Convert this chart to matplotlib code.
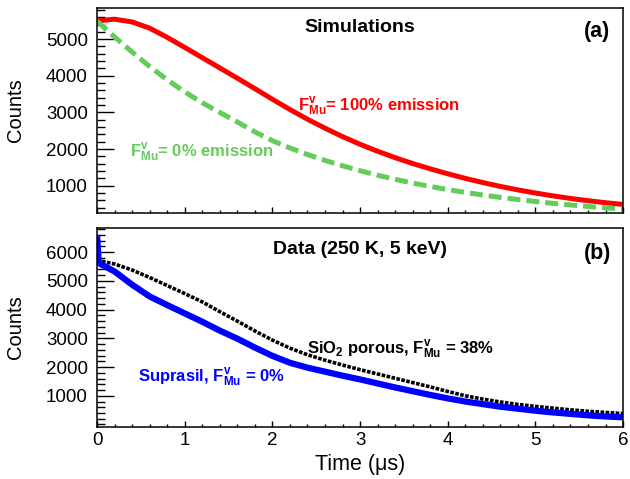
import matplotlib
matplotlib.use('Agg')
import matplotlib.pyplot as plt
from matplotlib.ticker import MultipleLocator, FixedLocator

plt.rcParams['font.family'] = 'Liberation Sans'
plt.rcParams['mathtext.fontset'] = 'custom'
plt.rcParams['mathtext.rm'] = 'Liberation Sans'
plt.rcParams['mathtext.bf'] = 'Liberation Sans:bold'

# Time bins (us), every 0.2 us
t = [0.0, 0.2, 0.4, 0.6, 0.8, 1.0, 1.2, 1.4, 1.6, 1.8, 2.0,
     2.2, 2.4, 2.6, 2.8, 3.0, 3.2, 3.4, 3.6, 3.8, 4.0,
     4.2, 4.4, 4.6, 4.8, 5.0, 5.2, 5.4, 5.6, 5.8, 6.0]

# (a) Simulations
sim_100 = [5500, 5545, 5470, 5300, 5050, 4775, 4495, 4215, 3935, 3650, 3360,
           3080, 2815, 2570, 2340, 2130, 1940, 1765, 1605, 1460, 1325,
           1200, 1085, 980, 885, 800, 722, 652, 590, 535, 488]
sim_0 = [5490, 5060, 4650, 4255, 3890, 3560, 3265, 3000, 2740, 2470, 2230,
         2030, 1852, 1690, 1543, 1409, 1286, 1174, 1072, 979, 894,
         816, 745, 680, 621, 567, 518, 473, 432, 394, 360]

# (b) Data (250 K, 5 keV)
porous = [5720, 5590, 5380, 5120, 4840, 4560, 4270, 3930, 3600, 3260, 2940,
          2660, 2430, 2240, 2070, 1910, 1760, 1610, 1460, 1310, 1150,
          1000, 885, 785, 700, 630, 570, 510, 460, 420, 380]
t_supra = [0.0, 0.02] + t[1:]
suprasil = [6600, 5620, 5330, 4870, 4460, 4160, 3870, 3580, 3270, 2990, 2680, 2390,
            2150, 1980, 1840, 1700, 1570, 1430, 1290, 1160, 1030, 910,
            800, 710, 620, 550, 480, 420, 370, 320, 280, 250]

red = '#ff0000'
green = '#63cc5a'
blue = '#0000ff'

fig = plt.figure(figsize=(6.3, 4.79), dpi=100)
ax1 = fig.add_axes([0.154, 0.555, 0.835, 0.429])
ax2 = fig.add_axes([0.154, 0.109, 0.835, 0.416])

ax1.plot(t, sim_100, color=red, lw=3.6, solid_capstyle='butt', solid_joinstyle='round')
ax1.plot(t, sim_0, color=green, lw=3.6, dashes=(2.6, 1.2), dash_capstyle='butt')

ax2.plot(t, porous, color='black', lw=2.6, dashes=(1.0, 0.4), dash_capstyle='butt')
ax2.plot(t_supra, suprasil, color=blue, lw=4.5, solid_capstyle='butt', solid_joinstyle='round')

for ax in (ax1, ax2):
    ax.set_xlim(0, 6)
    ax.xaxis.set_major_locator(MultipleLocator(1))
    ax.xaxis.set_minor_locator(MultipleLocator(0.2))
    ax.yaxis.set_minor_locator(MultipleLocator(200))
    ax.tick_params(axis='y', which='major', direction='in', length=12, width=1,
                   pad=6.5, labelsize=13.5)
    ax.tick_params(axis='y', which='minor', direction='in', length=6, width=1)
    ax.tick_params(axis='x', which='major', direction='in', length=4.3, width=1,
                   pad=4, labelsize=13.5)
    ax.tick_params(axis='x', which='minor', direction='in', length=2.2, width=1)
    for s in ax.spines.values():
        s.set_linewidth(1.1)
    ax.set_ylabel('Counts', fontsize=14.5)
    ax.yaxis.set_label_coords(-0.136, 0.5)

ax1.set_ylim(250, 5860)
ax1.yaxis.set_major_locator(FixedLocator([1000, 2000, 3000, 4000, 5000]))
ax1.tick_params(axis='x', labelbottom=False)

ax2.set_ylim(-80, 6860)
ax2.yaxis.set_major_locator(FixedLocator([1000, 2000, 3000, 4000, 5000, 6000]))
ax2.set_xlabel('Time (\u03bcs)', fontsize=15.5)
ax2.xaxis.set_label_coords(0.5, -0.135)

# annotations
ax1.text(3.0, 5196, 'Simulations', fontsize=14, fontweight='bold', ha='center', va='baseline')
ax1.text(5.70, 5052, '(a)', fontsize=15.5, fontweight='bold', ha='center', va='baseline')
ax1.text(2.29, 3044, r'$\mathbf{F^{v}_{Mu}}$= 100% emission', color=red, fontsize=12,
         fontweight='bold', va='baseline')
ax1.text(0.376, 1798, r'$\mathbf{F^{v}_{Mu}}$= 0% emission', color=green, fontsize=12,
         fontweight='bold', va='baseline')

ax2.text(3.0, 5955, 'Data (250 K, 5 keV)', fontsize=14, fontweight='bold', ha='center', va='baseline')
ax2.text(5.71, 5763, '(b)', fontsize=15.5, fontweight='bold', ha='center', va='baseline')
ax2.text(2.39, 2477, r'SiO$_\mathbf{2}$ porous, $\mathbf{F^{v}_{Mu}}$ = 38%', color='black',
         fontsize=12, fontweight='bold', va='baseline')
ax2.text(0.464, 1488, r'Suprasil, $\mathbf{F^{v}_{Mu}}$ = 0%', color=blue, fontsize=12,
         fontweight='bold', va='baseline')

fig.savefig('out.png', dpi=100)
